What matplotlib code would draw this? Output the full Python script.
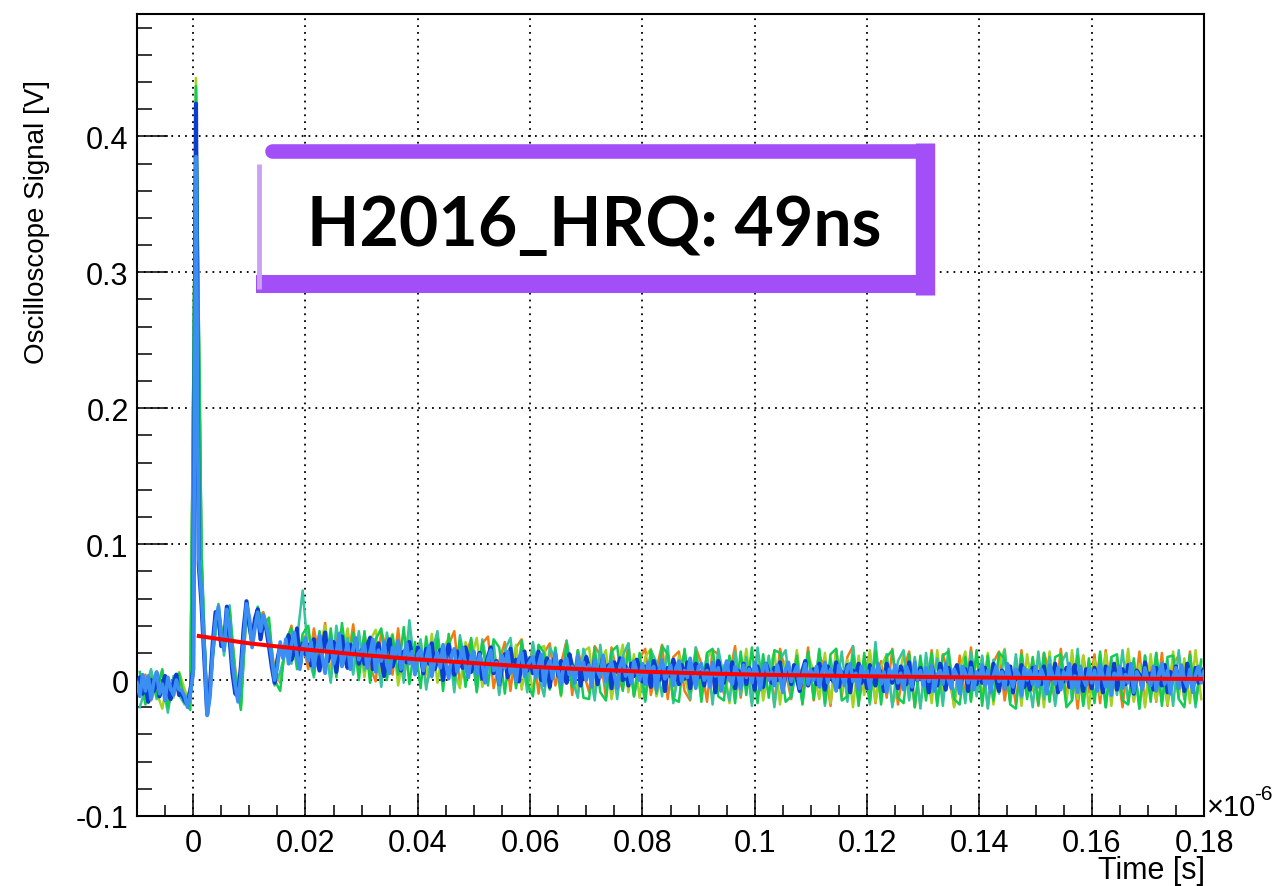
import matplotlib
matplotlib.use("Agg")
import matplotlib.pyplot as plt
import numpy as np
from matplotlib.lines import Line2D
from matplotlib.patches import Rectangle

# ---- data (all signals in mV) ----
# blue traces sampled every 0.5 ns from -0.01 to 0.18 (x1e-6 s)
t_blue = np.linspace(-0.01, 0.18, 381)
light_blue_mv = [
    -2, -12, 4, -8, 3, -14, -1, 6, -10, -3, -15, 2, -6, -11, 0, -7,
    -8, -12, -20, -10, 5, 385, 90, 62, 22, -26, -12, 22, 44, 54, 32, 22, 52, 38, 12, -4,
    -16, 4, 30, 56, 46, 24, 38, 50, 36, 48, 40, 30, 16, 0, 10, 28, 16,
    30, 12, 26, 35, 18, 8, 24, 31,
    14, 28, 9, 22, 33, 17, 5, 25, 30, 12, 20, 34, 10, 18, 27, 8, 23, 31, 15, 21,
    26, 9, 19, 30, 6, 22, 14, 28, 11, 5, 24, 18, 29, 8, 16, 27, 12, 21, 4, 19,
    22, 7, 16, 25, 3, 14, 20, 9, 26, 12, 1, 18, 23, 6, 15, 24, 10, 2, 17, 21,
    4, 19, 12, -2, 15, 22, 7, 13, -3, 18, 9, 21, 5, 11, -1, 16, 20, 3, 10, 14,
    17, 2, 11, 19, -4, 9, 14, 1, 20, 6, -3, 12, 16, 4, 10, -2, 18, 8, 13, 0,
    11, -5, 15, 7, 2, 18, -1, 9, 13, 4, -6, 10, 16, 3, 8, -2, 14, 6, 0, 12,
    -3, 13, 6, 10, -7, 8, 15, 1, 4, 11, -4, 9, 14, -1, 7, 2, 16, 5, -6, 10,
    12, 0, 7, -5, 13, 3, 9, -8, 6, 14, 1, -3, 10, 5, -6, 11, 2, 8, -2, 13,
    4, -7, 9, 12, 0, 6, -4, 11, 2, -9, 8, 13, -1, 5, 10, -6, 3, 12, -3, 7,
    0, 10, -5, 6, 13, -2, 8, 1, -8, 11, 4, -4, 9, 12, -1, 5, -7, 10, 2, 7,
    -6, 9, 3, 12, -3, 6, -9, 8, 1, 11, -2, 5, -7, 10, 4, -5, 13, 0, 7, -4,
    9, -1, 11, -8, 4, 7, -3, 12, 0, -6, 8, 3, -10, 10, 5, -2, 9, -7, 6, 1,
    11, -4, 7, -9, 3, 10, -1, 6, -7, 12, 2, -5, 8, 4, -11, 9, 0, 7, -3, 10,
    -5, 8, 2, -10, 11, 4, -3, 9, -7, 6, 0, 12, -6, 3, -9, 10, 1, -4, 8, -2,
    7, -8, 11, 3, -5, 9, -11, 5, 1, 10, -6, 4, -2, 12, -9, 6, 2, -7, 9, 0,
    -4, 10, -8, 5, 12, -3, 7, -10, 2, 9, -6, 11, 0, -5, 8, -9, 4, 10, -2, 6,
]
dark_blue_mv = [
    -6, 2, -10, -3, -16, 0, -8, 5, -12, -4, 3, -9, -14, -2, 4, -11,
    -10, -15, -18, -8, 8, 424, 85, 55, 15, -25, -5, 28, 50, 48, 25, 28, 54, 30, 5, -10,
    -12, 10, 38, 58, 40, 28, 45, 52, 30, 44, 38, 25, 10, -2, 15, 25, 20,
    24, 33, 15, 21, 38, 10, 27, 19,
    26, 11, 30, 18, 7, 24, 35, 14, 20, 28, 6, 23, 32, 16, 9, 26, 19, 29, 12, 22,
    12, 25, 31, 8, 20, 27, 15, 3, 23, 30, 10, 17, 26, 7, 21, 13, 28, 18, 9, 24,
    18, 5, 23, 12, 27, 8, 15, 22, 0, 19, 26, 11, 4, 21, 14, 9, 24, 16, 6, 13,
    12, 20, 1, 8, 17, 24, 5, 14, -3, 10, 19, 2, 23, 9, 15, -1, 12, 21, 7, 16,
    5, 13, 21, 0, 9, 16, -5, 11, 18, 3, 14, 7, -2, 19, 10, 4, 15, -4, 8, 17,
    9, 1, 14, -3, 7, 17, 4, 11, -6, 13, 6, 16, 0, 10, -4, 12, 3, 15, 8, -1,
    10, 4, -5, 14, 7, 0, 12, -8, 9, 3, 15, 6, -3, 11, 1, 13, -6, 8, 12, 2,
    6, -4, 11, 2, 9, -9, 14, 5, -2, 10, 3, 13, -6, 7, 0, 12, -3, 9, 4, -7,
    10, 2, -5, 12, 6, -2, 9, 0, 13, -6, 4, 8, -3, 11, 1, -8, 7, 14, -4, 5,
    8, -3, 12, 2, -7, 10, 4, -1, 13, -5, 6, 0, 11, -9, 7, 3, 12, -2, 5, -6,
    11, 1, -4, 9, 5, -8, 12, 3, -2, 8, -6, 10, 2, -3, 13, -7, 6, 0, 9, -1,
    4, -9, 10, 2, -4, 12, 6, -7, 9, -1, 5, 11, -5, 3, 8, -8, 13, 1, -3, 7,
    -2, 9, 3, -6, 12, 0, -8, 7, 4, -3, 10, -9, 6, 1, 11, -5, 3, -7, 9, 2,
    6, -3, 10, -7, 4, 1, 12, -9, 7, -1, 9, -5, 5, 11, -4, 2, -8, 8, 3, -6,
    9, -2, 4, -9, 10, 6, -4, 12, -7, 3, 8, -3, 11, 0, -10, 7, 4, -5, 13, -1,
    5, -7, 9, 2, -4, 11, -9, 6, 1, 10, -3, 7, -8, 12, 3, -6, 9, -2, 5, 8,
]

# other scope channels sampled every 1 ns from -0.0095 to 0.1795
t_other = np.linspace(-0.0095, 0.1795, 190)
green_mv = [
    6, -18, 2, -12, 8, -20, -1, 5, -16, -22,
    437, 93, -24, 18, 56, 22, 52, 4, -22, 52, 30, 54, 40, 46, 0, -8, 30, 38, 8, 34,
    40, 4, 36, 6, 38, 2, 42, 10, 35, 0,
    36, -2, 30, 38, 0, 33, 4, 39, -3, 28,
    -6, 32, 2, 30, -8, 34, 0, 29, -5, 31,
    -9, 28, -4, 30, 24, -10, 25, -6, 29, -2,
    -12, 26, 20, -7, 24, -11, 27, -5, 22, -13,
    -14, 24, -9, -15, 21, 25, -8, 22, -12, 20,
    -15, 22, -10, 25, 19, -14, -16, 23, -9, 21,
    -16, 20, 23, -12, -15, 18, -17, 21, -11, 24,
    -17, 19, -13, 22, 20, -16, -12, 18, -18, 21,
    -14, 22, -17, 19, 23, -15, -12, 18, -19, 20,
    -16, 21, -18, 17, 22, -13, -17, 19, -20, 18,
    -15, 20, -19, 18, 21, -14, -18, 17, -16, 22,
    -19, 18, -15, 20, 16, -18, -21, 19, -14, 17,
    -18, 20, -16, 17, 19, -20, -15, 18, -19, 16,
    -17, 21, -20, 17, 19, -15, -18, 16, -21, 18,
    -16, 20, -19, 17, 18, -14, -20, 19, -17, 15,
]
orange_mv = [
    -10, 4, -15, -3, 7, -19, -8, 2, -13, -17,
    430, 80, -20, 24, 50, 28, 48, 8, -16, 50, 38, 46, 50, 36, 8, -2, 26, 40, 14, 28,
    8, 38, 15, 42, 3, 30, 37, 12, 41, 5,
    34, 10, -1, 36, 22, 4, 38, 0, 31, 14,
    29, -4, 10, 33, 2, 26, 36, -3, 18, 30,
    0, 27, 32, -6, 14, 28, -8, 24, 30, 2,
    26, -10, 20, 27, -4, 12, 29, -11, 22, 6,
    -9, 25, 18, -13, 24, 4, -7, 27, -12, 16,
    23, -11, 8, 26, -14, 17, 21, -8, -15, 24,
    12, -16, 22, 19, -10, 4, 25, -13, 18, -17,
    21, -9, 16, -18, 23, 6, -14, 20, -11, 24,
    -15, 18, 9, -19, 22, -12, 17, 25, -16, 3,
    20, -17, 14, -13, 23, -18, 8, 21, -20, 15,
    -12, 22, -16, 19, 5, -19, 18, -14, 24, -10,
    17, -20, 13, 21, -15, 9, -18, 22, -12, 16,
    -19, 20, 6, -16, 23, -13, 15, -21, 18, -9,
    19, -17, 22, -12, 10, -20, 17, -15, 21, -18,
    14, -16, 20, -19, 12, 18, -14, 21, -17, 9,
]
teal_mv = [
    -20, -6, 8, -14, -2, -24, 3, -11, -18, -5,
    435, 92, -26, 16, 54, 18, 55, 2, -18, 58, 26, 50, 44, 38, -4, 6, 22, 12, 30, 66,
    18, 2, 34, 26, -2, 40, 12, 31, 4, 36,
    7, 32, 25, -5, 35, 11, 28, -2, 44, 8,
    30, -7, 20, 36, 2, 27, -9, 33, 12, 24,
    -8, 30, 8, 26, -11, 22, 31, -4, 19, -9,
    28, 4, -12, 24, 16, -10, 29, 1, -13, 23,
    10, -15, 26, -6, 21, -14, 18, 27, -11, 5,
    -16, 22, 13, -12, 25, -17, 7, 20, -14, 24,
    -8, 19, -18, 23, 2, -15, 21, -11, 17, -19,
    24, -6, 18, -20, 15, 22, -13, 9, -17, 20,
    -11, 23, -19, 16, -8, 21, -16, 25, -14, 12,
    -18, 28, -12, 19, -20, 14, 22, -15, 17, -21,
    20, -9, 16, -19, 23, -14, 11, -17, 21, -12,
    18, -21, 15, -10, 22, -16, 19, -13, 8, -20,
    21, -14, 17, -19, 12, 20, -15, 23, -18, 10,
    -13, 19, -20, 16, -11, 22, -17, 14, -21, 18,
    -12, 20, -16, 15, -19, 22, -14, 17, -20, 13,
]
yellowgreen_mv = [
    -3, -16, 7, -9, -21, 1, -13, 6, -7, -19,
    443, 86, -22, 22, 52, 24, 46, 6, -20, 54, 34, 48, 46, 42, 2, 0, 24, 34, 10, 30,
    36, 10, 22, 40, 1, 28, 14, 38, 6, 33,
    2, 29, 37, 5, 24, 34, -4, 20, 36, 9,
    26, 4, 34, -2, 22, 31, 6, -6, 28, 15,
    31, -5, 12, 28, -10, 20, 3, 26, -7, 17,
    -9, 23, 25, -6, 15, -12, 27, 9, -8, 21,
    24, -11, 12, 22, -14, 8, 26, -9, 19, -13,
    17, 23, -12, 5, 21, -16, 18, 2, -13, 20,
    -14, 16, 22, -9, 11, -17, 20, -5, 23, -12,
    18, -15, 7, 21, -18, 14, -10, 22, -16, 19,
    6, -14, 20, -17, 23, -9, 15, -20, 18, -11,
    22, -16, 10, 19, -18, -6, 21, -13, 16, -19,
    13, -17, 22, -11, 18, -20, 8, 21, -15, 17,
    -13, 20, -18, 11, 23, -16, 14, -19, 19, -8,
    16, -20, 21, -12, 9, -17, 22, -14, 18, -21,
    15, -11, 20, -19, 17, -8, 23, -16, 12, -20,
    19, -15, 10, -18, 21, -13, 16, -17, 22, -14,
]

# exponential fit (tau = 49 ns), read at a few times
fit_t = [0.001, 0.01, 0.02, 0.03, 0.04, 0.05, 0.06, 0.07, 0.08, 0.09, 0.10,
         0.11, 0.12, 0.13, 0.14, 0.15, 0.16, 0.17, 0.1795]
fit_v = [0.0324, 0.0270, 0.0225, 0.0185, 0.0152, 0.0125, 0.0098, 0.0079,
         0.0062, 0.0050, 0.0040, 0.0034, 0.0028, 0.0023, 0.0019, 0.0015,
         0.0012, 0.0010, 0.0008]

x_ticks = [0, 0.02, 0.04, 0.06, 0.08, 0.1, 0.12, 0.14, 0.16, 0.18]
x_labels = ["0", "0.02", "0.04", "0.06", "0.08", "0.1", "0.12", "0.14", "0.16", "0.18"]
y_ticks = [-0.1, 0, 0.1, 0.2, 0.3, 0.4]
y_labels = ["-0.1", "0", "0.1", "0.2", "0.3", "0.4"]

W, H = 1288, 887
def fx(x):
    return x / W
def fy(y):
    return 1 - y / H

plt.rcParams["font.family"] = ["Liberation Sans", "DejaVu Sans"]

fig = plt.figure(figsize=(W / 100, H / 100), dpi=100)
ax = fig.add_axes([fx(137), fy(817), (1204 - 137) / W, (817 - 15) / H])
ax.set_xlim(-0.01, 0.18)
ax.set_ylim(-0.1, 0.49)

# side channels first (they only peek out at the edges of the blue band)
others = [(orange_mv, "#f07d14"), (yellowgreen_mv, "#a4d321"),
          (teal_mv, "#36c39d"), (green_mv, "#14cc52")]
for vals, col in others:
    n = min(len(vals), len(t_other))
    ax.plot(t_other[:n], np.array(vals[:n]) / 1000.0, color=col, lw=1.8, zorder=2)

n = min(len(dark_blue_mv), len(t_blue))
ax.plot(t_blue[:n], np.array(dark_blue_mv[:n]) / 1000.0, color="#0b3dd1", lw=3.0, zorder=3)
n = min(len(light_blue_mv), len(t_blue))
ax.plot(t_blue[:n], np.array(light_blue_mv[:n]) / 1000.0, color="#3b8ff2", lw=2.7, zorder=4)

ax.plot(fit_t, fit_v, color="#ff0000", lw=2.9, zorder=5)

# ROOT-like axes
ax.set_xticks(x_ticks)
ax.set_xticklabels(x_labels)
ax.set_yticks(y_ticks)
ax.set_yticklabels(y_labels)
ax.xaxis.set_minor_locator(matplotlib.ticker.MultipleLocator(0.005))
ax.yaxis.set_minor_locator(matplotlib.ticker.MultipleLocator(0.02))
ax.tick_params(axis="both", which="both", direction="in", width=1.1,
               top=False, right=False, labelsize=22)
ax.tick_params(axis="y", which="major", length=22, pad=6)
ax.tick_params(axis="y", which="minor", length=11)
ax.tick_params(axis="x", which="major", length=16, pad=9)
ax.tick_params(axis="x", which="minor", length=8)
ax.grid(True, which="major", color="black", linestyle=(0, (1, 2.8)), linewidth=1.3)
ax.set_axisbelow(True)
for s in ax.spines.values():
    s.set_linewidth(1.5)

fig.text(fx(37), fy(222), "Oscilloscope Signal [V]", rotation=90, ha="center", va="center",
         fontsize=20)
fig.text(fx(1205), fy(879), "Time [s]", ha="right", va="baseline", fontsize=22)
fig.text(fx(1207), fy(816), "\u00d710", ha="left", va="baseline", fontsize=21)
fig.text(fx(1254), fy(800), "-6", ha="left", va="baseline", fontsize=15)

# hand-drawn purple label box
purple = "#a24ff7"
fig.add_artist(Rectangle((fx(257), fy(292)), fx(925) - fx(257), fy(150) - fy(292),
                         transform=fig.transFigure, facecolor="white", edgecolor="none", zorder=6))
fig.add_artist(Line2D([fx(272), fx(925)], [fy(152), fy(152)], transform=fig.transFigure,
                      color=purple, lw=10.5, solid_capstyle="round", zorder=7))
fig.add_artist(Line2D([fx(925), fx(925)], [fy(144), fy(296)], transform=fig.transFigure,
                      color=purple, lw=14, solid_capstyle="butt", zorder=7))
fig.add_artist(Line2D([fx(256), fx(935)], [fy(285), fy(285)], transform=fig.transFigure,
                      color=purple, lw=13, solid_capstyle="butt", zorder=7))
fig.add_artist(Line2D([fx(259), fx(259)], [fy(165), fy(290)], transform=fig.transFigure,
                      color="#c9a2f6", lw=3.5, solid_capstyle="butt", zorder=7))
fig.text(fx(594), fy(246), "H2016_HRQ: 49ns", ha="center", va="baseline",
         fontsize=49, fontweight="bold", family=["Lato", "DejaVu Sans"], zorder=8)

fig.savefig("out.png", dpi=100)
